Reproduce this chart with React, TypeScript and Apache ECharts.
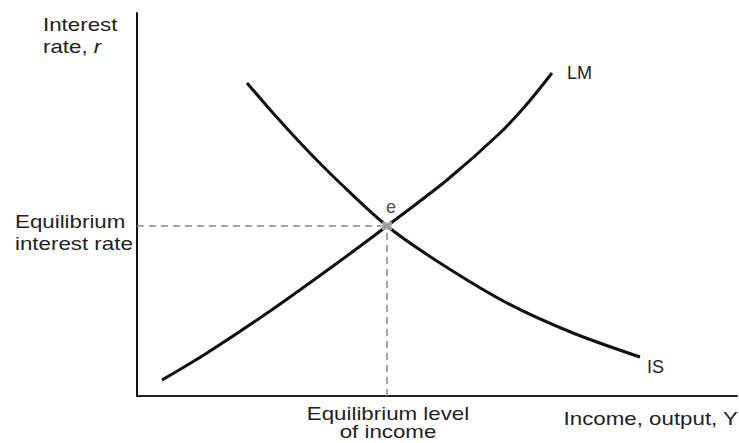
import React, { useEffect, useRef } from "react";
import * as echarts from "echarts";

// Curve data (income Y on x, interest rate r on y), arbitrary schematic units
const lmIncome = [25, 70, 136, 203, 250, 310, 363, 390, 415];
const lmRate = [16, 43, 87, 135, 170, 216, 263, 292, 323];
const isIncome = [110, 136, 170, 203, 250, 303, 370, 436, 503];
const isRate = [313, 283, 246, 213, 170, 133, 93, 63, 39];
const equilibrium = [250, 170];
const axisRange = [600, 383];

const curveNames = ["LM", "IS"];
const pointLabel = "e";
const yTitle = ["Interest", "rate, {i|r}"];
const eqRateLabel = ["Equilibrium", "interest rate"];
const eqIncomeLabel = ["Equilibrium level", "of income"];
const xTitle = "Income, output, Y";

const FONT = '"Liberation Sans", Arial, Helvetica, sans-serif';
const TEXT = "#222";
const SX = 1.24;

function txt(text: string, x: number, y: number, align: string, extra: any = {}) {
  return {
    type: "text",
    x,
    y,
    scaleX: SX,
    silent: true,
    style: {
      text,
      fill: TEXT,
      fontSize: 18,
      fontFamily: FONT,
      align,
      textAlign: align,
      verticalAlign: "middle",
      textVerticalAlign: "middle",
      ...extra,
    },
  };
}

export default function App() {
  const ref = useRef<HTMLDivElement>(null);
  useEffect(() => {
    if (!ref.current) return;
    const chart = echarts.init(ref.current, null, { renderer: "svg" });
    const zip = (a: number[], b: number[]) => a.map((v, i) => [v, b[i]]);
    const [eqX, eqY] = equilibrium;
    chart.setOption({
      animation: false,
      grid: { left: 137, top: 13, width: 600, height: 383, containLabel: false },
      xAxis: {
        type: "value",
        min: 0,
        max: axisRange[0],
        axisLine: { show: true, lineStyle: { color: "#222", width: 2 } },
        axisTick: { show: false },
        axisLabel: { show: false },
        splitLine: { show: false },
      },
      yAxis: {
        type: "value",
        min: 0,
        max: axisRange[1],
        axisLine: { show: true, lineStyle: { color: "#111", width: 2 } },
        axisTick: { show: false },
        axisLabel: { show: false },
        splitLine: { show: false },
      },
      series: [
        {
          type: "line",
          data: [[0, eqY], [eqX, eqY]],
          symbol: "none",
          silent: true,
          lineStyle: { color: "#8a8a8a", width: 1.5, type: [7, 5] },
          z: 1,
        },
        {
          type: "line",
          data: [[eqX, 0], [eqX, eqY]],
          symbol: "none",
          silent: true,
          lineStyle: { color: "#8a8a8a", width: 1.5, type: [7, 5] },
          z: 1,
        },
        {
          name: curveNames[0],
          type: "line",
          data: zip(lmIncome, lmRate),
          smooth: 0.3,
          symbol: "none",
          clip: false,
          lineStyle: { color: "#111", width: 3 },
          endLabel: {
            show: true,
            formatter: curveNames[0],
            distance: 15,
            fontSize: 18,
            fontFamily: FONT,
            color: TEXT,
          },
          z: 2,
        },
        {
          name: curveNames[1],
          type: "line",
          data: zip(isIncome, isRate),
          smooth: 0.3,
          symbol: "none",
          clip: false,
          lineStyle: { color: "#111", width: 3 },
          endLabel: {
            show: true,
            formatter: curveNames[1],
            distance: 7,
            offset: [0, 10],
            fontSize: 18,
            fontFamily: FONT,
            color: TEXT,
          },
          z: 2,
        },
        {
          type: "scatter",
          data: [equilibrium],
          symbol: "rect",
          symbolSize: [10, 8],
          itemStyle: { color: "#bdbdbd" },
          label: {
            show: true,
            position: "top",
            formatter: pointLabel,
            distance: 6,
            offset: [4, 0],
            fontSize: 18,
            fontFamily: FONT,
            color: TEXT,
          },
          z: 5,
        },
      ],
    });
    const p = chart.convertToPixel({ gridIndex: 0 }, [eqX, eqY]) as number[];
    const origin = chart.convertToPixel({ gridIndex: 0 }, [0, 0]) as number[];
    const right = chart.convertToPixel({ gridIndex: 0 }, [axisRange[0], 0]) as number[];
    const italic = { rich: { i: { fontStyle: "italic", fontSize: 18, fontFamily: FONT, fill: TEXT, color: TEXT } } };
    chart.setOption({
      graphic: [
        txt(yTitle[0], 43, 25, "left"),
        txt(yTitle[1], 43, 47, "left", italic),
        txt(eqRateLabel[0], 15, p[1] - 4, "left"),
        txt(eqRateLabel[1], 15, p[1] + 18, "left"),
        txt(eqIncomeLabel[0], p[0] + 1, origin[1] + 18, "center"),
        txt(eqIncomeLabel[1], p[0] + 1, origin[1] + 36, "center"),
        txt(xTitle, right[0] + 1, origin[1] + 23, "right"),
      ],
    });
    return () => chart.dispose();
  }, []);
  return (
    <div
      ref={ref}
      style={{ position: "fixed", left: 0, top: 0, width: 739, height: 443, background: "#fff" }}
    />
  );
}
